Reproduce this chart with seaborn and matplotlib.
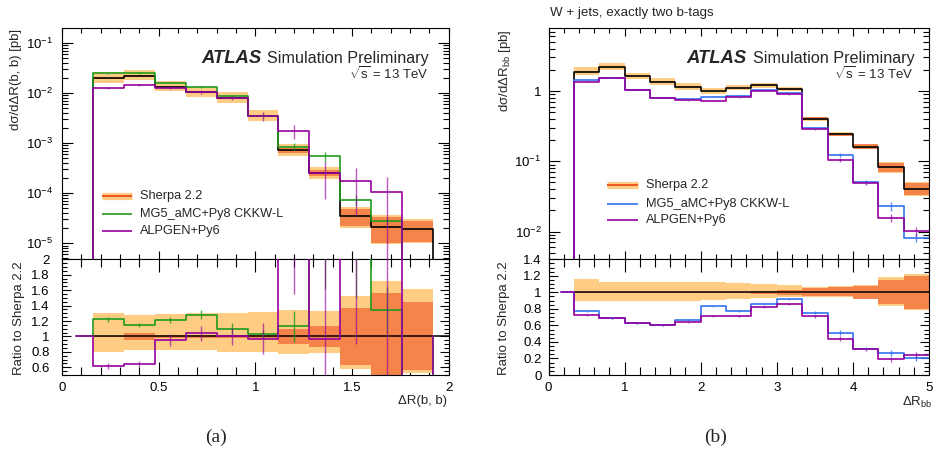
import numpy as np
import matplotlib
matplotlib.use("Agg")
import matplotlib.pyplot as plt
import seaborn as sns
from matplotlib.ticker import FixedLocator, MultipleLocator, LogLocator, NullFormatter, FuncFormatter
from matplotlib.lines import Line2D

# ---------------- data: panel (a) dR(b,b) ----------------
edges_a = [0.16, 0.32, 0.48, 0.64, 0.80, 0.96, 1.12, 1.28, 1.44, 1.60, 1.76, 1.92]
sherpa_a = [0.0195, 0.022, 0.0132, 0.0102, 0.0079, 0.0034, 7.1e-4, 2.5e-4, 3.5e-5, 2.1e-5, 1.9e-5]
mg5_a = [0.0244, 0.025, 0.016, 0.0132, 0.0087, 0.0035, 8.5e-4, 5.4e-4, 7.4e-5, 2.8e-5, 0.0]
alp_a = [0.0126, 0.0143, 0.0127, 0.0104, 0.0079, 0.0034, 1.74e-3, 2.5e-4, 1.74e-4, 1.07e-4, 0.0]
mg5_relerr_a = [0.03, 0.03, 0.03, 0.04, 0.05, 0.06, 0.15, 0.22, 0.25, 0.15, 0.0]
alp_relerr_a = [0.06, 0.06, 0.07, 0.10, 0.10, 0.20, 0.32, 0.70, 0.80, 1.00, 0.0]
ratio_mg5_a = [1.22, 1.15, 1.21, 1.28, 1.10, 1.03, 1.13, 2.16, 2.10, 1.34, 0.0]
ratio_alp_a = [0.62, 0.64, 0.95, 1.04, 1.00, 0.97, 2.40, 0.97, 5.00, 5.10, 0.0]
ratio_mg5_err_a = [0.03, 0.03, 0.04, 0.06, 0.07, 0.05, 0.20, 0.54, 0.60, 0.30, 0.0]
ratio_alp_err_a = [0.04, 0.04, 0.08, 0.10, 0.11, 0.20, 0.85, 1.20, 4.10, 5.00, 0.0]
tot_lo_a = [0.80, 0.83, 0.83, 0.82, 0.80, 0.80, 0.77, 0.78, 0.58, 0.45, 0.53]
tot_hi_a = [1.31, 1.28, 1.29, 1.30, 1.30, 1.32, 1.34, 1.33, 1.53, 1.72, 1.62]
stat_lo_a = [0.99, 0.96, 0.98, 0.98, 0.98, 0.98, 0.90, 0.86, 0.63, 0.48, 0.56]
stat_hi_a = [1.01, 1.05, 1.02, 1.02, 1.02, 1.02, 1.10, 1.14, 1.37, 1.56, 1.45]

# ---------------- data: panel (b) dR_bb ----------------
edges_b = [1/3, 2/3, 1.0, 4/3, 5/3, 2.0, 7/3, 8/3, 3.0, 10/3, 11/3, 4.0, 13/3, 14/3, 5.0]
sherpa_b = [1.88, 2.22, 1.63, 1.36, 1.15, 1.00, 1.11, 1.20, 1.06, 0.40, 0.242, 0.162, 0.082, 0.041]
mg5_b = [1.43, 1.55, 1.03, 0.80, 0.777, 0.83, 0.857, 1.03, 0.946, 0.30, 0.123, 0.0508, 0.0229, 0.0082]
alp_b = [1.36, 1.55, 1.03, 0.80, 0.74, 0.72, 0.81, 1.00, 0.90, 0.285, 0.104, 0.049, 0.0158, 0.0102]
mg5_relerr_b = [0.01, 0.01, 0.01, 0.01, 0.01, 0.01, 0.01, 0.01, 0.01, 0.03, 0.05, 0.07, 0.14, 0.14]
alp_relerr_b = [0.01, 0.01, 0.01, 0.01, 0.01, 0.01, 0.01, 0.01, 0.01, 0.03, 0.06, 0.06, 0.13, 0.14]
ratio_mg5_b = [0.77, 0.69, 0.625, 0.605, 0.665, 0.83, 0.775, 0.855, 0.915, 0.755, 0.51, 0.32, 0.27, 0.20]
ratio_alp_b = [0.725, 0.685, 0.625, 0.605, 0.637, 0.715, 0.715, 0.82, 0.86, 0.71, 0.44, 0.31, 0.19, 0.24]
ratio_mg5_err_b = [0.01, 0.01, 0.01, 0.01, 0.01, 0.01, 0.01, 0.01, 0.01, 0.02, 0.03, 0.02, 0.035, 0.03]
ratio_alp_err_b = [0.01, 0.01, 0.01, 0.01, 0.01, 0.01, 0.01, 0.01, 0.01, 0.02, 0.03, 0.02, 0.03, 0.035]
tot_lo_b = [0.90, 0.90, 0.90, 0.90, 0.90, 0.91, 0.92, 0.93, 0.94, 0.94, 0.94, 0.93, 0.83, 0.79]
tot_hi_b = [1.16, 1.12, 1.12, 1.13, 1.13, 1.12, 1.11, 1.10, 1.09, 1.07, 1.08, 1.09, 1.18, 1.22]
stat_lo_b = [0.99, 0.99, 0.99, 0.99, 0.99, 0.99, 0.99, 0.98, 0.97, 0.96, 0.95, 0.92, 0.86, 0.80]
stat_hi_b = [1.01, 1.01, 1.01, 1.01, 1.01, 1.01, 1.01, 1.02, 1.03, 1.05, 1.06, 1.08, 1.15, 1.20]

legend_labels = ["Sherpa 2.2", "MG5_aMC+Py8 CKKW-L", "ALPGEN+Py6"]

# ---------------- style ----------------
sns.set_theme(style="ticks")
plt.rcParams["font.family"] = ["Liberation Sans", "DejaVu Sans"]
plt.rcParams["mathtext.fontset"] = "custom"
plt.rcParams["mathtext.rm"] = "Liberation Sans"
plt.rcParams["mathtext.it"] = "Liberation Sans:italic"
plt.rcParams["mathtext.bf"] = "Liberation Sans:bold"

C_LIGHT = "#ffcc84"
C_DARK = "#f5844a"
C_SHLINE = "#ee5522"
C_GREEN = "#1f9a1f"
C_BLUE = "#3472f0"
C_MAG = "#96009f"
FS = 9.5

W, H = 934, 461
fig = plt.figure(figsize=(W / 100, H / 100), dpi=100)
fig.patch.set_facecolor("white")


def fax(l, b, r, t):
    return fig.add_axes([l / W, 1 - b / H, (r - l) / W, (b - t) / H])


def fx(px):
    return px / W


def fy(py):
    return 1 - py / H


TINY = 1e-12


def step_line(ax, edges, vals, color, lw=1.1, start=TINY, end=TINY, lead=None, z=3):
    xs = list(np.repeat(edges, 2))
    ys = [start] + list(np.repeat(vals, 2)) + [end]
    if lead is not None:
        xs = [lead] + xs
        ys = [start] + ys
    sns.lineplot(x=xs, y=ys, sort=False, estimator=None, color=color, lw=lw, ax=ax, zorder=z)


def band(ax, edges, lo, hi, color, z=1):
    lo = list(lo) + [lo[-1]]
    hi = list(hi) + [hi[-1]]
    ax.fill_between(edges, lo, hi, step="post", color=color, lw=0, zorder=z)


def errbars(ax, edges, vals, errs, color, alpha=0.8, z=4):
    e = np.asarray(edges)
    c = 0.5 * (e[:-1] + e[1:])
    v = np.asarray(vals)
    er = np.asarray(errs)
    m = v > 0
    ax.vlines(c[m], (v - er)[m], (v + er)[m], color=color, lw=1.0, alpha=alpha, zorder=z)


def style_axes(ax, upper, xmaj, xmin_, ymaj_len, ymin_len, xmaj_len, xmin_len):
    for s in ax.spines.values():
        s.set_linewidth(0.8)
        s.set_color("black")
        s.set_visible(True)
    ax.set_facecolor("white")
    ax.xaxis.set_major_locator(MultipleLocator(xmaj))
    ax.xaxis.set_minor_locator(MultipleLocator(xmin_))
    ax.tick_params(axis="both", which="both", direction="in", top=True, right=True,
                   width=0.8, colors="black", labelsize=FS)
    ax.tick_params(axis="x", which="major", length=xmaj_len)
    ax.tick_params(axis="x", which="minor", length=xmin_len)
    ax.tick_params(axis="y", which="major", length=ymaj_len)
    ax.tick_params(axis="y", which="minor", length=ymin_len)
    ax.grid(False)
    if upper:
        ax.tick_params(axis="x", labelbottom=False)


fmt_g = FuncFormatter(lambda v, p: f"{v:g}")


def log_labels(ax, exps, pad):
    ticks = [10.0 ** e for e in exps]
    ax.yaxis.set_major_locator(FixedLocator(ticks))
    ax.yaxis.set_minor_locator(LogLocator(base=10, subs=np.arange(2, 10)))
    ax.yaxis.set_minor_formatter(NullFormatter())
    ax.set_yticklabels(["1" if e == 0 else r"$10^{%d}$" % e for e in exps])
    ax.tick_params(axis="y", which="major", pad=pad)


def draw_panel(ax, axr, edges, sherpa, mg5, alp, mg5_rel, alp_rel, r_mg5, r_alp, r_mg5_e, r_alp_e,
               tlo, thi, slo, shi, mg5_color, xlim, ylim, rylim, first_center, close_ratio):
    sh = np.asarray(sherpa)
    band(ax, edges, sh * np.asarray(tlo), sh * np.asarray(thi), C_LIGHT)
    band(ax, edges, sh * np.asarray(slo), sh * np.asarray(shi), C_DARK)
    end_sh = TINY if close_ratio else sherpa[-1]
    step_line(ax, edges, sherpa, "black", lw=1.2, end=end_sh)
    end_m = TINY if close_ratio else mg5[-1]
    end_a = TINY if close_ratio else alp[-1]
    mg5p = [v if v > 0 else TINY for v in mg5]
    alpp = [v if v > 0 else TINY for v in alp]
    step_line(ax, edges, mg5p, mg5_color, lw=1.2, end=end_m)
    step_line(ax, edges, alpp, C_MAG, lw=1.2, end=end_a, z=3.5)
    errbars(ax, edges, mg5, np.asarray(mg5) * np.asarray(mg5_rel), mg5_color)
    errbars(ax, edges, alp, np.asarray(alp) * np.asarray(alp_rel), C_MAG, alpha=0.65)
    ax.set_yscale("log")
    ax.set_xlim(*xlim)
    ax.set_ylim(*ylim)

    # ratio
    band(axr, edges, tlo, thi, C_LIGHT)
    band(axr, edges, slo, shi, C_DARK)
    sns.lineplot(x=[edges[0], xlim[1]], y=[1, 1], color="black", lw=1.1, ax=axr, zorder=3)
    endr_m = 1.0 if close_ratio else r_mg5[-1]
    endr_a = 1.0 if close_ratio else r_alp[-1]
    step_line(axr, edges, r_mg5, mg5_color, lw=1.2, start=1.0, end=endr_m, lead=first_center)
    step_line(axr, edges, r_alp, C_MAG, lw=1.2, start=1.0, end=endr_a, lead=first_center, z=3.5)
    errbars(axr, edges, r_mg5, r_mg5_e, mg5_color)
    errbars(axr, edges, r_alp, r_alp_e, C_MAG, alpha=0.65)
    axr.set_xlim(*xlim)
    axr.set_ylim(*rylim)


# ---------------- panel (a) ----------------
axA = fax(62, 259.3, 448.5, 28.3)
axAr = fax(62, 375, 448.5, 259.3)
draw_panel(axA, axAr, edges_a, sherpa_a, mg5_a, alp_a, mg5_relerr_a, alp_relerr_a,
           ratio_mg5_a, ratio_alp_a, ratio_mg5_err_a, ratio_alp_err_a,
           tot_lo_a, tot_hi_a, stat_lo_a, stat_hi_a, C_GREEN,
           (0, 2), (10 ** -5.32, 10 ** -0.712), (0.5, 2.0), 0.07, True)
style_axes(axA, True, 0.5, 0.1, 8, 4.3, 5.8, 3.6)
style_axes(axAr, False, 0.5, 0.1, 6.5, 3.6, 9.4, 5.8)
log_labels(axA, [-5, -4, -3, -2, -1], 6.5)
axAr.yaxis.set_major_locator(FixedLocator([0.6, 0.8, 1.0, 1.2, 1.4, 1.6, 1.8, 2.0]))
axAr.yaxis.set_minor_locator(MultipleLocator(0.05))
axAr.yaxis.set_major_formatter(fmt_g)
axAr.xaxis.set_major_formatter(fmt_g)
axAr.tick_params(axis="y", which="major", pad=9)
axAr.tick_params(axis="x", which="major", pad=5)

# ---------------- panel (b) ----------------
axB = fax(548.5, 259.3, 929, 28.3)
axBr = fax(548.5, 375, 929, 259.3)
draw_panel(axB, axBr, edges_b, sherpa_b, mg5_b, alp_b, mg5_relerr_b, alp_relerr_b,
           ratio_mg5_b, ratio_alp_b, ratio_mg5_err_b, ratio_alp_err_b,
           tot_lo_b, tot_hi_b, stat_lo_b, stat_hi_b, C_BLUE,
           (0, 5), (10 ** -2.394, 10 ** 0.892), (0.0, 1.4), 1 / 6, False)
style_axes(axB, True, 1, 0.2, 8, 4.3, 5.8, 3.6)
style_axes(axBr, False, 1, 0.2, 6.5, 3.6, 9.4, 5.8)
log_labels(axB, [-2, -1, 0], 5)
axBr.yaxis.set_major_locator(FixedLocator([0, 0.2, 0.4, 0.6, 0.8, 1.0, 1.2, 1.4]))
axBr.yaxis.set_minor_locator(MultipleLocator(0.05))
axBr.yaxis.set_major_formatter(fmt_g)
axBr.xaxis.set_major_formatter(fmt_g)
axBr.tick_params(axis="y", which="major", pad=5)
axBr.tick_params(axis="x", which="major", pad=5)

for ax in (axA, axAr, axB, axBr):
    ax.set_xlabel("")
    ax.set_ylabel("")

# ---------------- texts ----------------
def ftext(px, py, s, **kw):
    fig.text(fx(px), fy(py), s, **kw)


for x0, xs_, xr in ((201.7, 266.7, 428.3), (686.7, 753.3, 913)):
    ftext(x0, 62.8, "ATLAS", fontsize=13.3, fontweight="bold", fontstyle="italic", va="baseline", ha="left")
    ftext(xs_, 62.8, "Simulation Preliminary", fontsize=11.6, va="baseline", ha="left")
    ftext(xr, 78.5, r"$\sqrt{\mathrm{s}}$ = 13 TeV", fontsize=9.5, va="baseline", ha="right")

ftext(550, 16, "W + jets, exactly two b-tags", fontsize=9.6, va="baseline", ha="left")

ftext(16, 29, "dσ/dΔR(b, b) [pb]", fontsize=FS, rotation=90, va="top", ha="center")
ftext(19, 261, "Ratio to Sherpa 2.2", fontsize=FS, rotation=90, va="top", ha="center")
ftext(505, 29, r"dσ/dΔR$_{\mathrm{bb}}$ [pb]", fontsize=FS, rotation=90, va="top", ha="center")
ftext(504, 261, "Ratio to Sherpa 2.2", fontsize=FS, rotation=90, va="top", ha="center")

ftext(447, 401, "ΔR(b, b)", fontsize=FS, va="center", ha="right")
ftext(932, 402, r"ΔR$_{\mathrm{bb}}$", fontsize=FS, va="center", ha="right")

ftext(216, 437, "(a)", fontsize=14, family=["Liberation Serif", "DejaVu Serif"], va="center", ha="center")
ftext(716, 437, "(b)", fontsize=14, family=["Liberation Serif", "DejaVu Serif"], va="center", ha="center")

# ---------------- legends ----------------
def legend(x0, x1, xt, rows, model_color):
    colors = [None, model_color, C_MAG]
    for i, (lab, yy) in enumerate(zip(legend_labels, rows)):
        if i == 0:
            fig.add_artist(Line2D([fx(x0), fx(x1)], [fy(yy), fy(yy)], color=C_LIGHT, lw=5.2,
                                  solid_capstyle="butt", transform=fig.transFigure))
            fig.add_artist(Line2D([fx(x0), fx(x1)], [fy(yy), fy(yy)], color=C_SHLINE, lw=1.4,
                                  solid_capstyle="butt", transform=fig.transFigure))
        else:
            fig.add_artist(Line2D([fx(x0), fx(x1)], [fy(yy), fy(yy)], color=colors[i], lw=1.2,
                                  solid_capstyle="butt", transform=fig.transFigure))
        ftext(xt, yy, lab, fontsize=9.2, va="center", ha="left")


legend(101.7, 131.7, 140, [195.7, 214, 230.7], C_GREEN)
legend(606.7, 637.7, 646, [185, 203.7, 220], C_BLUE)

fig.savefig("out.png", dpi=100, facecolor="white")
